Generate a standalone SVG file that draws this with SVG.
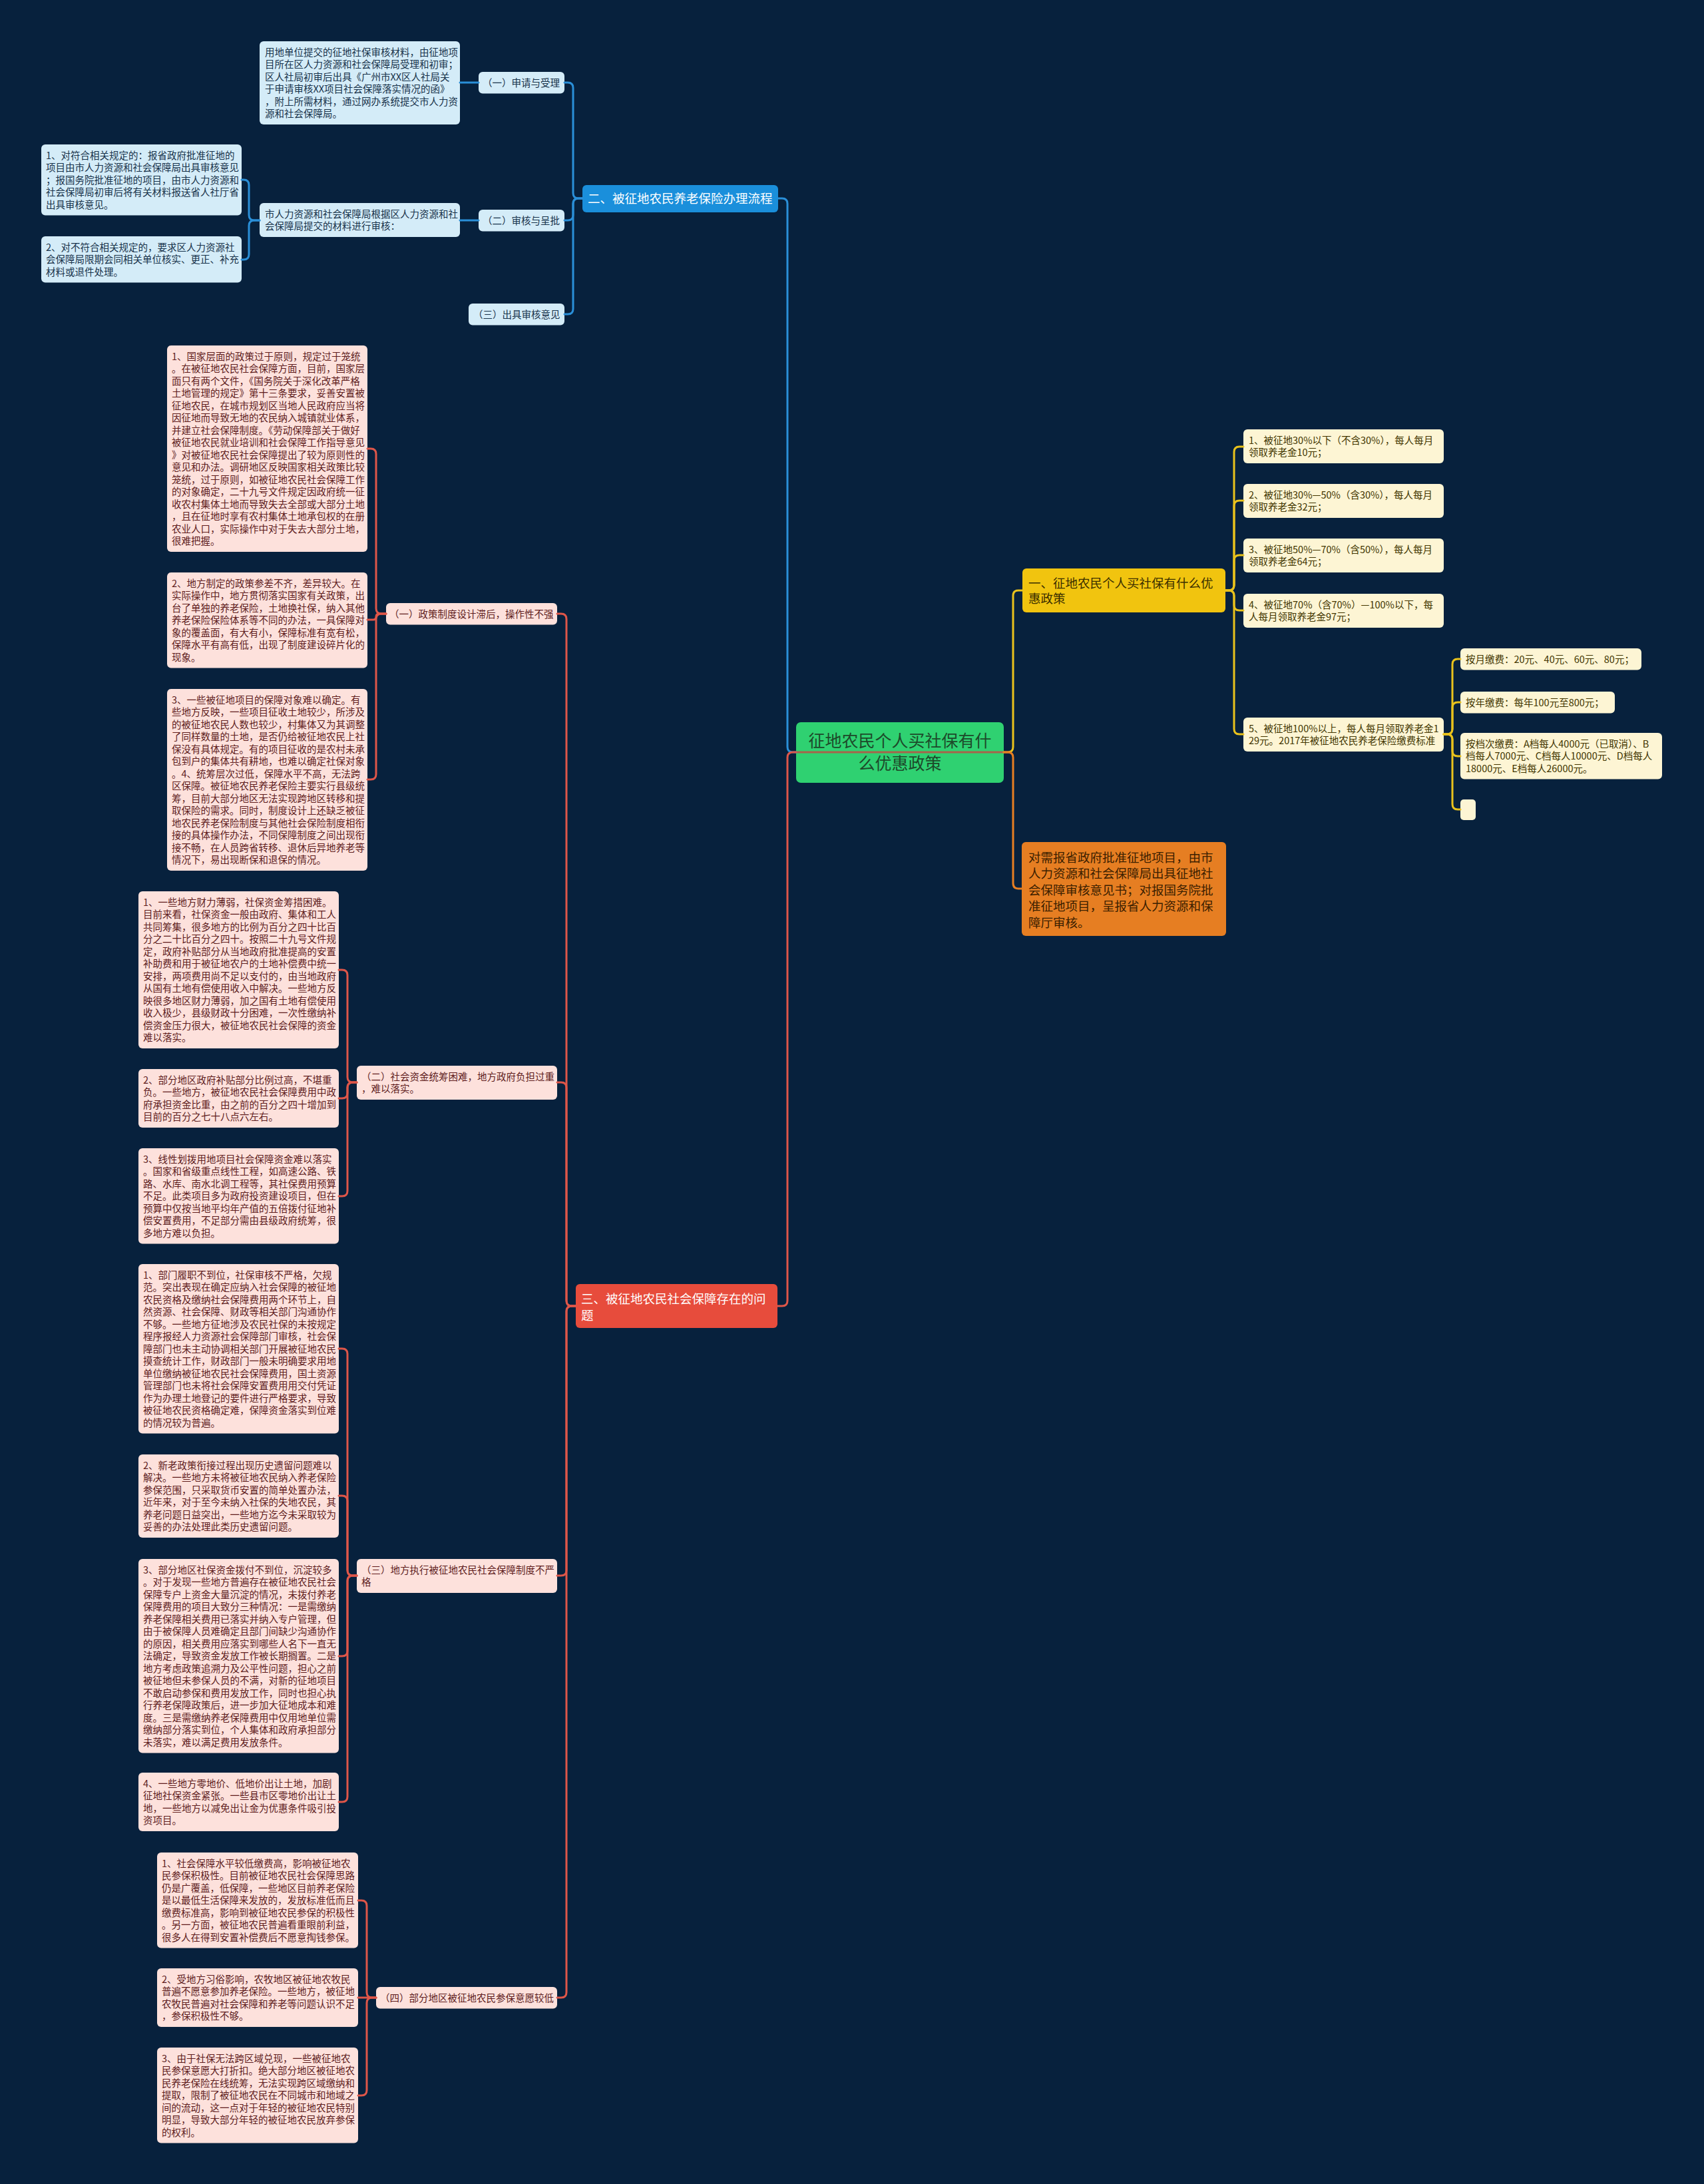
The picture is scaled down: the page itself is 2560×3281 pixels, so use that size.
<svg xmlns="http://www.w3.org/2000/svg" width="2560" height="3281" viewBox="0 0 2560 3281">
<style>
.t{font-family:"Noto Sans CJK SC","Microsoft YaHei",sans-serif;font-size:14.5px}
.tl{font-family:"Noto Sans CJK SC","Microsoft YaHei",sans-serif;font-size:18.5px}
.nb{fill:#d4ecf8}
.np{fill:#fde1dc}
.ny{fill:#fdf5d4}
.xb{fill:#17324a}
.xp{fill:#5e1c1c}
.xy{fill:#423500}
.c{fill:none;stroke-width:3;stroke-linecap:round;stroke-linejoin:round}
.cb{stroke:#2a8fd8}
.cr{stroke:#de5649}
.cy{stroke:#e9c21c}
.co{stroke:#e67e22}
</style>
<rect width="2560" height="3281" fill="#07213d"/>

<g id="nodes">
<g id="root">
<rect x="1196" y="1085" width="312" height="91" rx="7" fill="#2fd171"/>
<text font-family="Noto Sans CJK SC, sans-serif" font-size="25" fill="#1d4a2a" text-anchor="middle"><tspan x="1352" y="1122">征地农民个人买社保有什</tspan><tspan x="1352" y="1156">么优惠政策</tspan></text>
</g>

<g id="b2">
<rect x="875" y="278" width="294" height="41" rx="6" fill="#1a8fdb"/>
<text class="tl" fill="#ffffff" x="883" y="304.5">二、被征地农民养老保险办理流程</text>
</g>
<g id="b2-1">
<rect class="nb" x="719" y="108" width="129" height="32.5" rx="6"/>
<text class="t xb" x="725" y="129.5">（一）申请与受理</text>
</g>
<g id="b2-1a">
<rect class="nb" x="390" y="62" width="301" height="125" rx="6"/>
<text class="t xb"><tspan x="398" y="83.5">用地单位提交的征地社保审核材料，由征地项</tspan><tspan x="398" y="102">目所在区人力资源和社会保障局受理和初审；</tspan><tspan x="398" y="120.5">区人社局初审后出具《广州市XX区人社局关</tspan><tspan x="398" y="139">于申请审核XX项目社会保障落实情况的函》</tspan><tspan x="398" y="157.5">，附上所需材料，通过网办系统提交市人力资</tspan><tspan x="398" y="176">源和社会保障局。</tspan></text>
</g>
<g id="b2-2">
<rect class="nb" x="719" y="315" width="129" height="32.5" rx="6"/>
<text class="t xb" x="725" y="336.5">（二）审核与呈批</text>
</g>
<g id="b2-2a">
<rect class="nb" x="390" y="305" width="301" height="51" rx="6"/>
<text class="t xb"><tspan x="398" y="326.5">市人力资源和社会保障局根据区人力资源和社</tspan><tspan x="398" y="345">会保障局提交的材料进行审核：</tspan></text>
</g>
<g id="b2-2a1">
<rect class="nb" x="62" y="217" width="301" height="106.5" rx="6"/>
<text class="t xb"><tspan x="69" y="238.5">1、对符合相关规定的：报省政府批准征地的</tspan><tspan x="69" y="257">项目由市人力资源和社会保障局出具审核意见</tspan><tspan x="69" y="275.5">；报国务院批准征地的项目，由市人力资源和</tspan><tspan x="69" y="294">社会保障局初审后将有关材料报送省人社厅省</tspan><tspan x="69" y="312.5">出具审核意见。</tspan></text>
</g>
<g id="b2-2a2">
<rect class="nb" x="62" y="355" width="301" height="69.5" rx="6"/>
<text class="t xb"><tspan x="69" y="376.5">2、对不符合相关规定的，要求区人力资源社</tspan><tspan x="69" y="395">会保障局限期会同相关单位核实、更正、补充</tspan><tspan x="69" y="413.5">材料或退件处理。</tspan></text>
</g>
<g id="b2-3">
<rect class="nb" x="704" y="456" width="144" height="32.5" rx="6"/>
<text class="t xb" x="711" y="477.5">（三）出具审核意见</text>
</g>

<g id="r3">
<rect x="865" y="1929" width="303" height="66" rx="6" fill="#e74c3c"/>
<text class="tl" fill="#ffffff"><tspan x="873" y="1958">三、被征地农民社会保障存在的问</tspan><tspan x="873" y="1983">题</tspan></text>
</g>
<g id="r3-1">
<rect class="np" x="580" y="906" width="257" height="32.5" rx="6"/>
<text class="t xp" x="585" y="927.5">（一）政策制度设计滞后，操作性不强</text>
</g>
<g id="r3-1a">
<rect class="np" x="251" y="519" width="301" height="310" rx="6"/>
<text class="t xp"><tspan x="258" y="540.5">1、国家层面的政策过于原则，规定过于笼统</tspan><tspan x="258" y="559">。在被征地农民社会保障方面，目前，国家层</tspan><tspan x="258" y="577.5">面只有两个文件，《国务院关于深化改革严格</tspan><tspan x="258" y="596">土地管理的规定》第十三条要求，妥善安置被</tspan><tspan x="258" y="614.5">征地农民，在城市规划区当地人民政府应当将</tspan><tspan x="258" y="633">因征地而导致无地的农民纳入城镇就业体系，</tspan><tspan x="258" y="651.5">并建立社会保障制度。《劳动保障部关于做好</tspan><tspan x="258" y="670">被征地农民就业培训和社会保障工作指导意见</tspan><tspan x="258" y="688.5">》对被征地农民社会保障提出了较为原则性的</tspan><tspan x="258" y="707">意见和办法。调研地区反映国家相关政策比较</tspan><tspan x="258" y="725.5">笼统，过于原则，如被征地农民社会保障工作</tspan><tspan x="258" y="744">的对象确定，二十九号文件规定因政府统一征</tspan><tspan x="258" y="762.5">收农村集体土地而导致失去全部或大部分土地</tspan><tspan x="258" y="781">，且在征地时享有农村集体土地承包权的在册</tspan><tspan x="258" y="799.5">农业人口，实际操作中对于失去大部分土地，</tspan><tspan x="258" y="818">很难把握。</tspan></text>
</g>
<g id="r3-1b">
<rect class="np" x="251" y="860" width="301" height="143.5" rx="6"/>
<text class="t xp"><tspan x="258" y="881.5">2、地方制定的政策参差不齐，差异较大。在</tspan><tspan x="258" y="900">实际操作中，地方贯彻落实国家有关政策，出</tspan><tspan x="258" y="918.5">台了单独的养老保险，土地换社保，纳入其他</tspan><tspan x="258" y="937">养老保险保险体系等不同的办法，一具保障对</tspan><tspan x="258" y="955.5">象的覆盖面，有大有小，保障标准有宽有松，</tspan><tspan x="258" y="974">保障水平有高有低，出现了制度建设碎片化的</tspan><tspan x="258" y="992.5">现象。</tspan></text>
</g>
<g id="r3-1c">
<rect class="np" x="251" y="1035" width="301" height="273" rx="6"/>
<text class="t xp"><tspan x="258" y="1056.5">3、一些被征地项目的保障对象难以确定。有</tspan><tspan x="258" y="1075">些地方反映，一些项目征收土地较少，所涉及</tspan><tspan x="258" y="1093.5">的被征地农民人数也较少，村集体又为其调整</tspan><tspan x="258" y="1112">了同样数量的土地，是否仍给被征地农民上社</tspan><tspan x="258" y="1130.5">保没有具体规定。有的项目征收的是农村未承</tspan><tspan x="258" y="1149">包到户的集体共有耕地，也难以确定社保对象</tspan><tspan x="258" y="1167.5">。4、统筹层次过低，保障水平不高，无法跨</tspan><tspan x="258" y="1186">区保障。被征地农民养老保险主要实行县级统</tspan><tspan x="258" y="1204.5">筹，目前大部分地区无法实现跨地区转移和提</tspan><tspan x="258" y="1223">取保险的需求。同时，制度设计上还缺乏被征</tspan><tspan x="258" y="1241.5">地农民养老保险制度与其他社会保险制度相衔</tspan><tspan x="258" y="1260">接的具体操作办法，不同保障制度之间出现衔</tspan><tspan x="258" y="1278.5">接不畅，在人员跨省转移、退休后异地养老等</tspan><tspan x="258" y="1297">情况下，易出现断保和退保的情况。</tspan></text>
</g>

<g id="r3-2">
<rect class="np" x="536" y="1601" width="301" height="51" rx="6"/>
<text class="t xp"><tspan x="543" y="1622.5">（二）社会资金统筹困难，地方政府负担过重</tspan><tspan x="543" y="1641">，难以落实。</tspan></text>
</g>
<g id="r3-2a">
<rect class="np" x="208" y="1339" width="301" height="236" rx="6"/>
<text class="t xp"><tspan x="215" y="1360.5">1、一些地方财力薄弱，社保资金筹措困难。</tspan><tspan x="215" y="1379">目前来看，社保资金一般由政府、集体和工人</tspan><tspan x="215" y="1397.5">共同筹集，很多地方的比例为百分之四十比百</tspan><tspan x="215" y="1416">分之二十比百分之四十。按照二十九号文件规</tspan><tspan x="215" y="1434.5">定，政府补贴部分从当地政府批准提高的安置</tspan><tspan x="215" y="1453">补助费和用于被征地农户的土地补偿费中统一</tspan><tspan x="215" y="1471.5">安排，两项费用尚不足以支付的，由当地政府</tspan><tspan x="215" y="1490">从国有土地有偿使用收入中解决。一些地方反</tspan><tspan x="215" y="1508.5">映很多地区财力薄弱，加之国有土地有偿使用</tspan><tspan x="215" y="1527">收入极少，县级财政十分困难，一次性缴纳补</tspan><tspan x="215" y="1545.5">偿资金压力很大，被征地农民社会保障的资金</tspan><tspan x="215" y="1564">难以落实。</tspan></text>
</g>
<g id="r3-2b">
<rect class="np" x="208" y="1606" width="301" height="88" rx="6"/>
<text class="t xp"><tspan x="215" y="1627.5">2、部分地区政府补贴部分比例过高，不堪重</tspan><tspan x="215" y="1646">负。一些地方，被征地农民社会保障费用中政</tspan><tspan x="215" y="1664.5">府承担资金比重，由之前的百分之四十增加到</tspan><tspan x="215" y="1683">目前的百分之七十八点六左右。</tspan></text>
</g>
<g id="r3-2c">
<rect class="np" x="208" y="1725" width="301" height="143.5" rx="6"/>
<text class="t xp"><tspan x="215" y="1746.5">3、线性划拨用地项目社会保障资金难以落实</tspan><tspan x="215" y="1765">。国家和省级重点线性工程，如高速公路、铁</tspan><tspan x="215" y="1783.5">路、水库、南水北调工程等，其社保费用预算</tspan><tspan x="215" y="1802">不足。此类项目多为政府投资建设项目，但在</tspan><tspan x="215" y="1820.5">预算中仅按当地平均年产值的五倍拨付征地补</tspan><tspan x="215" y="1839">偿安置费用，不足部分需由县级政府统筹，很</tspan><tspan x="215" y="1857.5">多地方难以负担。</tspan></text>
</g>

<g id="r3-3">
<rect class="np" x="536" y="2342" width="301" height="51" rx="6"/>
<text class="t xp"><tspan x="543" y="2363.5">（三）地方执行被征地农民社会保障制度不严</tspan><tspan x="543" y="2382">格</tspan></text>
</g>
<g id="r3-3a">
<rect class="np" x="208" y="1899" width="301" height="254.5" rx="6"/>
<text class="t xp"><tspan x="215" y="1920.5">1、部门履职不到位，社保审核不严格，欠规</tspan><tspan x="215" y="1939">范。突出表现在确定应纳入社会保障的被征地</tspan><tspan x="215" y="1957.5">农民资格及缴纳社会保障费用两个环节上，自</tspan><tspan x="215" y="1976">然资源、社会保障、财政等相关部门沟通协作</tspan><tspan x="215" y="1994.5">不够。一些地方征地涉及农民社保的未按规定</tspan><tspan x="215" y="2013">程序报经人力资源社会保障部门审核，社会保</tspan><tspan x="215" y="2031.5">障部门也未主动协调相关部门开展被征地农民</tspan><tspan x="215" y="2050">摸查统计工作，财政部门一般未明确要求用地</tspan><tspan x="215" y="2068.5">单位缴纳被征地农民社会保障费用，国土资源</tspan><tspan x="215" y="2087">管理部门也未将社会保障安置费用用交付凭证</tspan><tspan x="215" y="2105.5">作为办理土地登记的要件进行严格要求，导致</tspan><tspan x="215" y="2124">被征地农民资格确定难，保障资金落实到位难</tspan><tspan x="215" y="2142.5">的情况较为普遍。</tspan></text>
</g>
<g id="r3-3b">
<rect class="np" x="208" y="2185" width="301" height="125" rx="6"/>
<text class="t xp"><tspan x="215" y="2206.5">2、新老政策衔接过程出现历史遗留问题难以</tspan><tspan x="215" y="2225">解决。一些地方未将被征地农民纳入养老保险</tspan><tspan x="215" y="2243.5">参保范围，只采取货币安置的简单处置办法，</tspan><tspan x="215" y="2262">近年来，对于至今未纳入社保的失地农民，其</tspan><tspan x="215" y="2280.5">养老问题日益突出，一些地方迄今未采取较为</tspan><tspan x="215" y="2299">妥善的办法处理此类历史遗留问题。</tspan></text>
</g>
<g id="r3-3c">
<rect class="np" x="208" y="2342" width="301" height="291.5" rx="6"/>
<text class="t xp"><tspan x="215" y="2363.5">3、部分地区社保资金拨付不到位，沉淀较多</tspan><tspan x="215" y="2382">。对于发现一些地方普遍存在被征地农民社会</tspan><tspan x="215" y="2400.5">保障专户上资金大量沉淀的情况，未拨付养老</tspan><tspan x="215" y="2419">保障费用的项目大致分三种情况：一是需缴纳</tspan><tspan x="215" y="2437.5">养老保障相关费用已落实并纳入专户管理，但</tspan><tspan x="215" y="2456">由于被保障人员难确定且部门间缺少沟通协作</tspan><tspan x="215" y="2474.5">的原因，相关费用应落实到哪些人名下一直无</tspan><tspan x="215" y="2493">法确定，导致资金发放工作被长期搁置。二是</tspan><tspan x="215" y="2511.5">地方考虑政策追溯力及公平性问题，担心之前</tspan><tspan x="215" y="2530">被征地但未参保人员的不满，对新的征地项目</tspan><tspan x="215" y="2548.5">不敢启动参保和费用发放工作，同时也担心执</tspan><tspan x="215" y="2567">行养老保障政策后，进一步加大征地成本和难</tspan><tspan x="215" y="2585.5">度。三是需缴纳养老保障费用中仅用地单位需</tspan><tspan x="215" y="2604">缴纳部分落实到位，个人集体和政府承担部分</tspan><tspan x="215" y="2622.5">未落实，难以满足费用发放条件。</tspan></text>
</g>
<g id="r3-3d">
<rect class="np" x="208" y="2663" width="301" height="88" rx="6"/>
<text class="t xp"><tspan x="215" y="2684.5">4、一些地方零地价、低地价出让土地，加剧</tspan><tspan x="215" y="2703">征地社保资金紧张。一些县市区零地价出让土</tspan><tspan x="215" y="2721.5">地，一些地方以减免出让金为优惠条件吸引投</tspan><tspan x="215" y="2740">资项目。</tspan></text>
</g>

<g id="r3-4">
<rect class="np" x="565" y="2985" width="272" height="32.5" rx="6"/>
<text class="t xp" x="571" y="3006.5">（四）部分地区被征地农民参保意愿较低</text>
</g>
<g id="r3-4a">
<rect class="np" x="236" y="2783" width="302" height="143.5" rx="6"/>
<text class="t xp"><tspan x="243" y="2804.5">1、社会保障水平较低缴费高，影响被征地农</tspan><tspan x="243" y="2823">民参保积极性。目前被征地农民社会保障思路</tspan><tspan x="243" y="2841.5">仍是广覆盖，低保障，一些地区目前养老保险</tspan><tspan x="243" y="2860">是以最低生活保障来发放的，发放标准低而且</tspan><tspan x="243" y="2878.5">缴费标准高，影响到被征地农民参保的积极性</tspan><tspan x="243" y="2897">。另一方面，被征地农民普遍看重眼前利益，</tspan><tspan x="243" y="2915.5">很多人在得到安置补偿费后不愿意掏钱参保。</tspan></text>
</g>
<g id="r3-4b">
<rect class="np" x="236" y="2957" width="302" height="88" rx="6"/>
<text class="t xp"><tspan x="243" y="2978.5">2、受地方习俗影响，农牧地区被征地农牧民</tspan><tspan x="243" y="2997">普遍不愿意参加养老保险。一些地方，被征地</tspan><tspan x="243" y="3015.5">农牧民普遍对社会保障和养老等问题认识不足</tspan><tspan x="243" y="3034">，参保积极性不够。</tspan></text>
</g>
<g id="r3-4c">
<rect class="np" x="236" y="3076" width="302" height="143.5" rx="6"/>
<text class="t xp"><tspan x="243" y="3097.5">3、由于社保无法跨区域兑现，一些被征地农</tspan><tspan x="243" y="3116">民参保意愿大打折扣。绝大部分地区被征地农</tspan><tspan x="243" y="3134.5">民养老保险在线统筹，无法实现跨区域缴纳和</tspan><tspan x="243" y="3153">提取，限制了被征地农民在不同城市和地域之</tspan><tspan x="243" y="3171.5">间的流动，这一点对于年轻的被征地农民特别</tspan><tspan x="243" y="3190">明显，导致大部分年轻的被征地农民放弃参保</tspan><tspan x="243" y="3208.5">的权利。</tspan></text>
</g>

<g id="y1">
<rect x="1536" y="854" width="305" height="66" rx="6" fill="#f1c40f"/>
<text class="tl" fill="#3b2f00"><tspan x="1545" y="882.5">一、征地农民个人买社保有什么优</tspan><tspan x="1545" y="905.5">惠政策</tspan></text>
</g>
<g id="y1-1">
<rect class="ny" x="1868" y="645" width="301" height="51" rx="6"/>
<text class="t xy"><tspan x="1876" y="666.5">1、被征地30%以下（不含30%），每人每月</tspan><tspan x="1876" y="685">领取养老金10元；</tspan></text>
</g>
<g id="y1-2">
<rect class="ny" x="1868" y="727" width="301" height="51" rx="6"/>
<text class="t xy"><tspan x="1876" y="748.5">2、被征地30%—50%（含30%），每人每月</tspan><tspan x="1876" y="767">领取养老金32元；</tspan></text>
</g>
<g id="y1-3">
<rect class="ny" x="1868" y="809" width="301" height="51" rx="6"/>
<text class="t xy"><tspan x="1876" y="830.5">3、被征地50%—70%（含50%），每人每月</tspan><tspan x="1876" y="849">领取养老金64元；</tspan></text>
</g>
<g id="y1-4">
<rect class="ny" x="1868" y="892" width="301" height="51" rx="6"/>
<text class="t xy"><tspan x="1876" y="913.5">4、被征地70%（含70%）—100%以下，每</tspan><tspan x="1876" y="932">人每月领取养老金97元；</tspan></text>
</g>
<g id="y1-5">
<rect class="ny" x="1868" y="1078" width="301" height="51" rx="6"/>
<text class="t xy"><tspan x="1876" y="1099.5">5、被征地100%以上，每人每月领取养老金1</tspan><tspan x="1876" y="1118">29元。2017年被征地农民养老保险缴费标准</tspan></text>
</g>
<g id="y1-5a">
<rect class="ny" x="2194" y="974" width="272" height="32.5" rx="6"/>
<text class="t xy" x="2202" y="995.5">按月缴费：20元、40元、60元、80元；</text>
</g>
<g id="y1-5b">
<rect class="ny" x="2194" y="1039" width="232" height="32.5" rx="6"/>
<text class="t xy" x="2202" y="1060.5">按年缴费：每年100元至800元；</text>
</g>
<g id="y1-5c">
<rect class="ny" x="2194" y="1101" width="303" height="69.5" rx="6"/>
<text class="t xy"><tspan x="2202" y="1122.5">按档次缴费：A档每人4000元（已取消）、B</tspan><tspan x="2202" y="1141">档每人7000元、C档每人10000元、D档每人</tspan><tspan x="2202" y="1159.5">18000元、E档每人26000元。</tspan></text>
</g>
<g id="y1-5d">
<rect class="ny" x="2194" y="1201" width="23" height="31" rx="5"/>
</g>

<g id="o1">
<rect x="1535" y="1265" width="307" height="141" rx="6" fill="#e67e22"/>
<text class="tl" fill="#3b2000"><tspan x="1545" y="1294.5">对需报省政府批准征地项目，由市</tspan><tspan x="1545" y="1319">人力资源和社会保障局出具征地社</tspan><tspan x="1545" y="1343.5">会保障审核意见书；对报国务院批</tspan><tspan x="1545" y="1368">准征地项目，呈报省人力资源和保</tspan><tspan x="1545" y="1392.5">障厅审核。</tspan></text>
</g>
</g>

<g id="connectors">
<path class="c" stroke="#a8644a" d="M1196,1130 H1508"/>
<path class="c cb" d="M1196,1130 H1191 Q1183,1130 1183,1122 V306 Q1183,298 1175,298 H1169"/>
<path class="c cr" d="M1196,1130 H1191 Q1183,1130 1183,1138 V1954 Q1183,1962 1175,1962 H1168"/>
<path class="c cy" d="M1508,1130 H1514 Q1522,1130 1522,1122 V895 Q1522,887 1530,887 H1536"/>
<path class="c co" d="M1508,1130 H1514 Q1522,1130 1522,1138 V1327 Q1522,1335 1530,1335 H1535"/>

<path class="c cb" d="M875,298 H869 Q861,298 861,290 V132 Q861,124 853,124 H848"/>
<path class="c cb" d="M875,298 H869 Q861,298 861,306 V323 Q861,331 853,331 H848"/>
<path class="c cb" d="M875,298 H869 Q861,298 861,306 V464 Q861,472 853,472 H848"/>
<path class="c cb" d="M719,124 H691"/>
<path class="c cb" d="M719,331 H691"/>
<path class="c cb" d="M390,331 H382 Q374,331 374,323 V278 Q374,270 366,270 H363"/>
<path class="c cb" d="M390,331 H382 Q374,331 374,339 V382 Q374,390 366,390 H363"/>

<path class="c cr" d="M865,1962 H859 Q851,1962 851,1954 V930 Q851,922 843,922 H837"/>
<path class="c cr" d="M865,1962 H859 Q851,1962 851,1954 V1634 Q851,1626 843,1626 H837"/>
<path class="c cr" d="M865,1962 H859 Q851,1962 851,1970 V2359 Q851,2367 843,2367 H837"/>
<path class="c cr" d="M865,1962 H859 Q851,1962 851,1970 V2993 Q851,3001 843,3001 H837"/>

<path class="c cr" d="M580,922 H573 Q565,922 565,914 V682 Q565,674 557,674 H552"/>
<path class="c cr" d="M580,922 H569.5 Q565,922 565,926.5 Q565,931 560.5,931 H552"/>
<path class="c cr" d="M580,922 H573 Q565,922 565,930 V1163 Q565,1171 557,1171 H552"/>

<path class="c cr" d="M536,1626 H530 Q522,1626 522,1618 V1465 Q522,1457 514,1457 H509"/>
<path class="c cr" d="M536,1626 H530 Q522,1626 522,1634 V1642 Q522,1650 514,1650 H509"/>
<path class="c cr" d="M536,1626 H530 Q522,1626 522,1634 V1789 Q522,1797 514,1797 H509"/>

<path class="c cr" d="M536,2367 H530 Q522,2367 522,2359 V2034 Q522,2026 514,2026 H509"/>
<path class="c cr" d="M536,2367 H530 Q522,2367 522,2359 V2255 Q522,2247 514,2247 H509"/>
<path class="c cr" d="M536,2367 H530 Q522,2367 522,2375 V2480 Q522,2488 514,2488 H509"/>
<path class="c cr" d="M536,2367 H530 Q522,2367 522,2375 V2699 Q522,2707 514,2707 H509"/>

<path class="c cr" d="M565,3001 H559 Q551,3001 551,2993 V2863 Q551,2855 543,2855 H538"/>
<path class="c cr" d="M565,3001 H538"/>
<path class="c cr" d="M565,3001 H559 Q551,3001 551,3009 V3140 Q551,3148 543,3148 H538"/>

<path class="c cy" d="M1841,887 H1846 Q1854,887 1854,879 V679 Q1854,671 1862,671 H1868"/>
<path class="c cy" d="M1841,887 H1846 Q1854,887 1854,879 V760 Q1854,752 1862,752 H1868"/>
<path class="c cy" d="M1841,887 H1846 Q1854,887 1854,879 V842 Q1854,834 1862,834 H1868"/>
<path class="c cy" d="M1841,887 H1846 Q1854,887 1854,895 V909 Q1854,917 1862,917 H1868"/>
<path class="c cy" d="M1841,887 H1846 Q1854,887 1854,895 V1095 Q1854,1103 1862,1103 H1868"/>

<path class="c cy" d="M2169,1103 H2174 Q2182,1103 2182,1095 V998 Q2182,990 2190,990 H2194"/>
<path class="c cy" d="M2169,1103 H2174 Q2182,1103 2182,1095 V1063 Q2182,1055 2190,1055 H2194"/>
<path class="c cy" d="M2169,1103 H2174 Q2182,1103 2182,1111 V1128 Q2182,1136 2190,1136 H2194"/>
<path class="c cy" d="M2169,1103 H2174 Q2182,1103 2182,1111 V1208 Q2182,1216 2190,1216 H2194"/>
</g>
</svg>
